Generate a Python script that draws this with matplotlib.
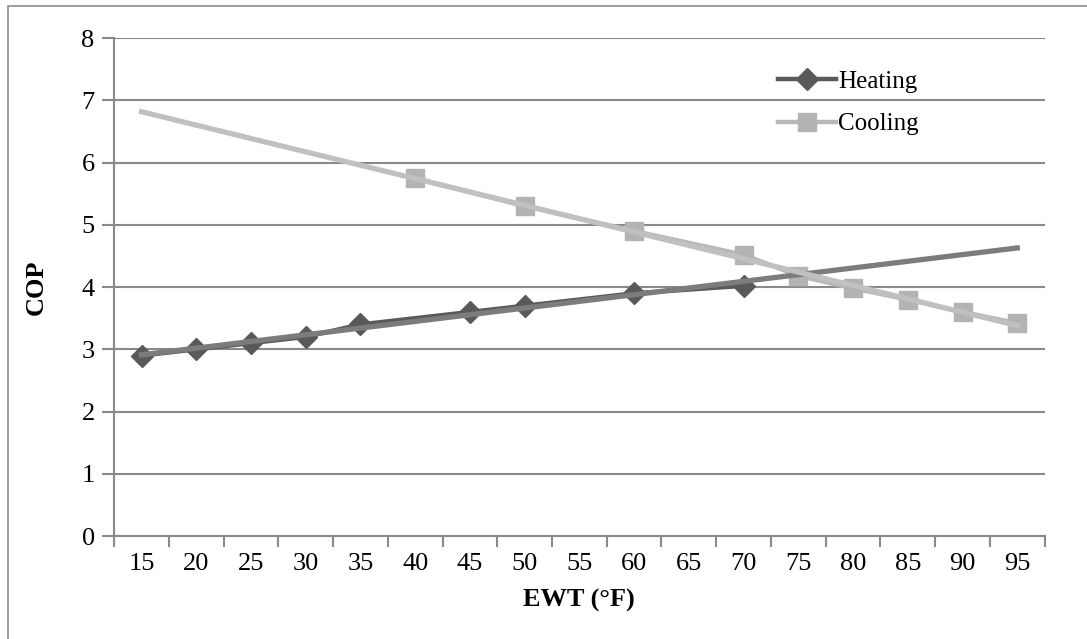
import numpy as np
import matplotlib.pyplot as plt
from matplotlib.patches import Rectangle

# category axis (EWT, deg F)
ewt = [15, 20, 25, 30, 35, 40, 45, 50, 55, 60, 65, 70, 75, 80, 85, 90, 95]

# measured points (blank categories are left out)
heat_ewt = [15, 20, 25, 30, 35, 45, 50, 60, 70]
heat_cop = [2.9, 3.0, 3.1, 3.2, 3.4, 3.6, 3.7, 3.9, 4.02]
cool_ewt = [40, 50, 60, 70, 75, 80, 85, 90, 95]
cool_cop = [5.75, 5.3, 4.9, 4.52, 4.18, 3.98, 3.8, 3.6, 3.42]

plt.rcParams["font.family"] = ["Liberation Serif", "DejaVu Serif"]
fs = 19

fig = plt.figure(figsize=(10.87, 6.39), dpi=100)
ax = fig.add_axes([0.105, 0.161, 0.856, 0.7795])

# outer chart border
fig.patches.append(Rectangle((8 / 1087, -0.05), 1.2, 1 - 6 / 639 + 0.05,
                             transform=fig.transFigure, fill=False,
                             edgecolor="#8c8c8c", lw=1.2))

idx = {v: i for i, v in enumerate(ewt)}
hx = np.array([idx[v] for v in heat_ewt])
cx = np.array([idx[v] for v in cool_ewt])
allx = np.arange(len(ewt))

# linear trendlines over the category index, like Excel does
hfit = np.polyfit(hx, heat_cop, 1)
cfit = np.polyfit(cx, cool_cop, 1)

ax.plot(hx, heat_cop, color="#595959", lw=3.2, marker="D", ms=11,
        mfc="#595959", mec="#595959", label="Heating", zorder=3)
ax.plot(cx, cool_cop, color="#b8b8b8", lw=3.2, marker="s", ms=13,
        mfc="#b3b3b3", mec="#b3b3b3", label="Cooling", zorder=3)
ax.plot(allx, np.polyval(hfit, allx), color="#7c7c7c", lw=3.8, zorder=4)
ax.plot(allx, np.polyval(cfit, allx), color="#c0c0c0", lw=3.8, zorder=4)

ax.set_xlim(-0.5, len(ewt) - 0.5)
ax.set_ylim(0, 8)
ax.set_yticks(range(0, 9))
ax.set_xticks(allx)
ax.set_xticklabels([str(v) for v in ewt])
ax.set_xticks(np.arange(-0.5, len(ewt)), minor=True)

ax.grid(axis="y", color="#8a8a8a", lw=1.5, zorder=1)
for s in ["top", "right"]:
    ax.spines[s].set_visible(False)
for s in ["left", "bottom"]:
    ax.spines[s].set_color("#8a8a8a")
    ax.spines[s].set_linewidth(1.5)

ax.tick_params(axis="x", which="major", length=0, pad=12, labelsize=fs)
ax.tick_params(axis="x", which="minor", length=8, width=1.5, color="#8a8a8a")
ax.tick_params(axis="y", length=9, width=1.5, color="#8a8a8a", pad=5,
               labelsize=fs)

ax.set_xlabel("EWT (°F)", fontsize=fs, fontweight="bold", labelpad=10)
ax.set_ylabel("COP", fontsize=fs, fontweight="bold", labelpad=24)

leg = ax.legend(loc="upper left", bbox_to_anchor=(0.703, 0.955), frameon=False,
                fontsize=18, handlelength=2.3, handletextpad=0.1,
                labelspacing=0.8, borderaxespad=0)

fig.savefig("out.png", dpi=100)
